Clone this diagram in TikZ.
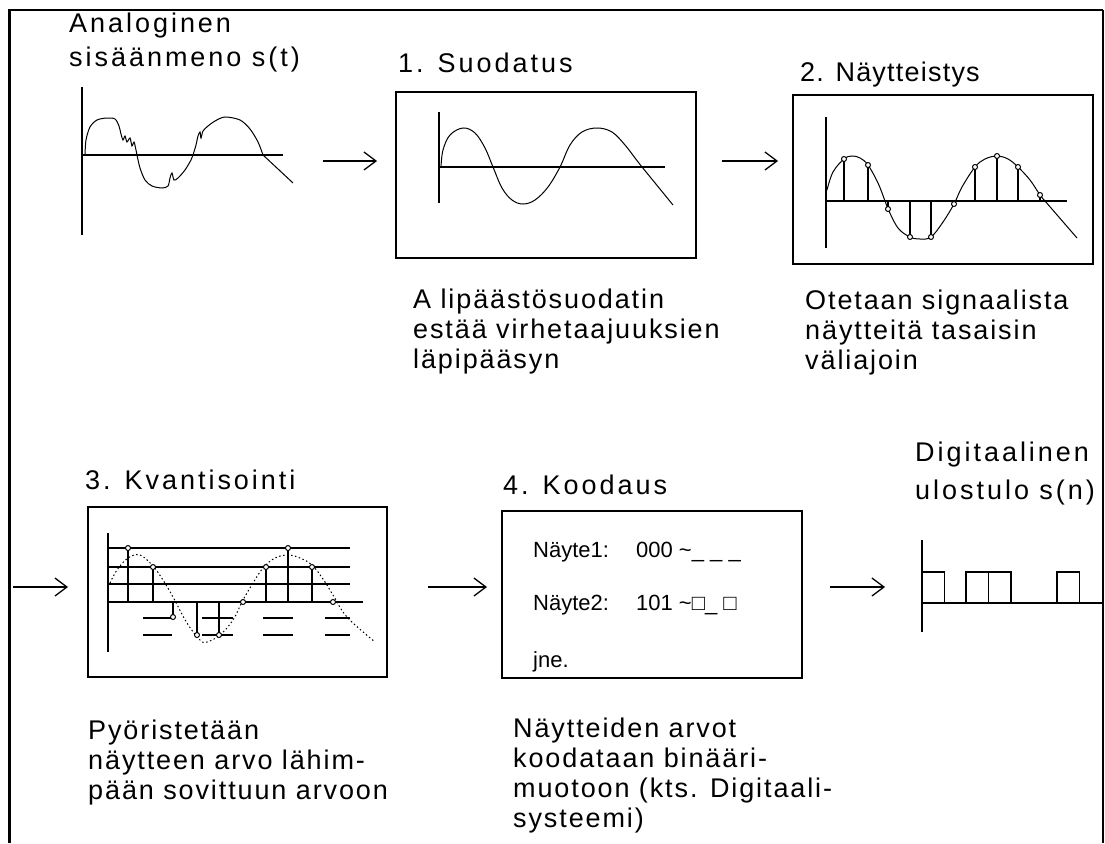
\documentclass[tikz,border=0pt]{standalone}
\usepackage{fontspec}
\setmainfont{Liberation Sans}
\newfontfamily\titlefont[LetterSpace=11]{Liberation Sans}
\newfontfamily\descfont[LetterSpace=7]{Liberation Sans}
\usetikzlibrary{arrows.meta}

\begin{document}
\begin{tikzpicture}[x=1pt, y=-1pt,
    title/.style={font=\titlefont\fontsize{27}{34}\selectfont, anchor=north west, inner sep=0pt, align=left},
    desc/.style={font=\descfont\fontsize{27}{30}\selectfont, anchor=north west, inner sep=0pt, align=left},
    panel/.style={draw, line width=1.3pt, minimum width=300pt, minimum height=167pt, inner sep=0pt},
    code/.style={font=\fontsize{22}{22}\selectfont, anchor=base west, inner sep=0pt},
    axis/.style={line width=1.3pt},
    sig/.style={line width=1pt},
    arr/.style={-{Straight Barb[length=12pt,width=18pt]}, line width=1.3pt}
]
\useasboundingbox (0,0) rectangle (1105,843);

% Frame
\draw[line width=3pt] (9,843) -- (9,10);
\draw[line width=2pt] (8,10) -- (1103,10);
\draw[line width=1.6pt] (1103,10) -- (1103,843);

% Analog input
\node[title] (analog) at (69,13) {Analoginen\\sisäänmeno s(t)};
\draw[axis] (82,87) -- (82,235);
\draw[axis] (82,155) -- (283,155);
\draw[sig] plot[smooth, tension=0.5] coordinates {(85,155) (86,140) (90,127) (97,120) (107,118) (115,119) (119,126) (121,134) (123,140) (125,136) (127,142) (130,138) (132,146) (134,142) (136,150) (137,155) (140,168) (145,180) (152,186) (162,188) (168,186) (170,178) (172,173) (174,180) (178,178) (185,170) (191,160) (193,155) (196,145) (198,136) (200,132) (201,138) (203,131) (208,126) (215,121) (225,117) (240,120) (250,129) (258,142) (263,155)} -- (293,183);

% 1. Suodatus
\node[title] (suodt) at (398,53) {1. Suodatus};
\node[panel, minimum height=166pt] (suod) at (546,175) {};
\draw[axis] (439,112) -- (439,203);
\draw[axis] (439,167) -- (665,167);
\draw[sig] plot[smooth, tension=0.6] coordinates {(441,167) (443,150) (450,135) (463,128) (475,133) (485,148) (493,167) (502,188) (512,200) (523,204) (535,200) (548,187) (560,167) (570,145) (582,132) (597,128) (612,132) (625,145) (635,158) (642,167)} -- (673,205);
\node[desc] (suodd) at (413,289) {A lipäästösuodatin\\estää virhetaajuuksien\\läpipääsyn};

% 2. Näytteistys
\node[title, font=\titlefont\addfontfeature{LetterSpace=4.5}\fontsize{27}{34}\selectfont] (naytt) at (800,62) {2. Näytteistys};
\node[panel, minimum height=169pt] (nayt) at (943,179.5) {};
\draw[axis] (826,117) -- (826,248);
\draw[axis] (826,201) -- (1067,201);
\draw[sig] plot[smooth, tension=0.6] coordinates {(827,190) (833,172) (844,159) (852,156) (860,158) (868,165) (878,183) (885,201) (888,209) (898,228) (910,237) (920,239) (931,237) (943,222) (954,204) (962,187) (975,167) (985,159) (997,156) (1008,159) (1018,167) (1030,180) (1040,195) (1045,201)} -- (1077,238);
\foreach \x/\y in {844/159, 868/165, 888/209, 910/237, 931/237, 954/204, 975/167, 997/156, 1018/167, 1040/195} {
    \draw[axis] (\x,201) -- (\x,\y);
    \draw[sig, fill=white] (\x,\y) circle (2.5pt);
}
\node[desc] (naytd) at (805,290) {Otetaan signaalista\\näytteitä tasaisin\\väliajoin};

% 3. Kvantisointi
\node[title] (kvantt) at (85,470) {3. Kvantisointi};
\node[panel, minimum width=299pt, minimum height=170pt] (kvant) at (237.5,592) {};
\draw[axis] (108,533) -- (108,652);
\foreach \y in {548,567,584} \draw[axis] (108,\y) -- (350,\y);
\draw[axis] (108,602) -- (363,602);
\foreach \y in {618,635}
    \foreach \a/\b in {143/172, 202/233, 263/293, 325/350}
        \draw[axis] (\a,\y) -- (\b,\y);
\draw[sig, dash pattern=on 1.5pt off 2.5pt] plot[smooth, tension=0.6] coordinates {(110,583) (117,570) (128,558) (140,555) (153,566) (163,580) (173,597) (187,623) (200,640) (207,642) (220,635) (233,620) (243,600) (253,583) (263,568) (275,558) (288,555) (300,558) (312,565) (323,579) (333,595) (347,617) (375,642)};
\foreach \x/\y in {128/548, 153/567, 173/617, 197/635, 219/635, 243/602, 266/567, 288/548, 312/567, 333/602} {
    \draw[axis] (\x,602) -- (\x,\y);
    \draw[sig, fill=white] (\x,\y) circle (2.5pt);
}
\node[desc] (kvantd) at (88,720) {Pyöristetään\\näytteen arvo lähim-\\pään sovittuun arvoon};

% 4. Koodaus
\node[title] (koodt) at (503,475) {4. Koodaus};
\node[panel] (kood) at (652,594.5) {};
\node[code] (k1) at (533,557) {Näyte1:};
\node[code] (k1v) at (636,557) {000 \textasciitilde\_ \_ \_};
\node[code] (k2) at (533,610) {Näyte2:};
\node[code] (k2v) at (636,610) {101 \textasciitilde□\_ □};
\node[code] (k3) at (533,667) {jne.};
\node[desc] (koodd) at (513,718) {Näytteiden arvot\\koodataan binääri-\\muotoon (kts. Digitaali-\\systeemi)};

% Digital output
\node[title, font=\titlefont\fontsize{27}{38}\selectfont] (digit) at (915,442) {Digitaalinen\\ulostulo s(n)};
\draw[axis] (922,540) -- (922,632);
\draw[axis] (922,603) -- (1103,603);
\foreach \x in {922, 966, 988.5, 1057}
    \draw[axis] (\x,603) rectangle ++(22.5,-31);

% Arrows
\coordinate (a1s) at (323,161); \coordinate (a1e) at (377,161);
\coordinate (a2s) at (722,161); \coordinate (a2e) at (778,161);
\coordinate (a3s) at (13,587);  \coordinate (a3e) at (68,587);
\coordinate (a4s) at (428,587); \coordinate (a4e) at (487,587);
\coordinate (a5s) at (830,587); \coordinate (a5e) at (885,587);
\draw[arr] (a1s) -- (a1e);
\draw[arr] (a2s) -- (a2e);
\draw[arr] (a3s) -- (a3e);
\draw[arr] (a4s) -- (a4e);
\draw[arr] (a5s) -- (a5e);

\end{tikzpicture}
\end{document}
